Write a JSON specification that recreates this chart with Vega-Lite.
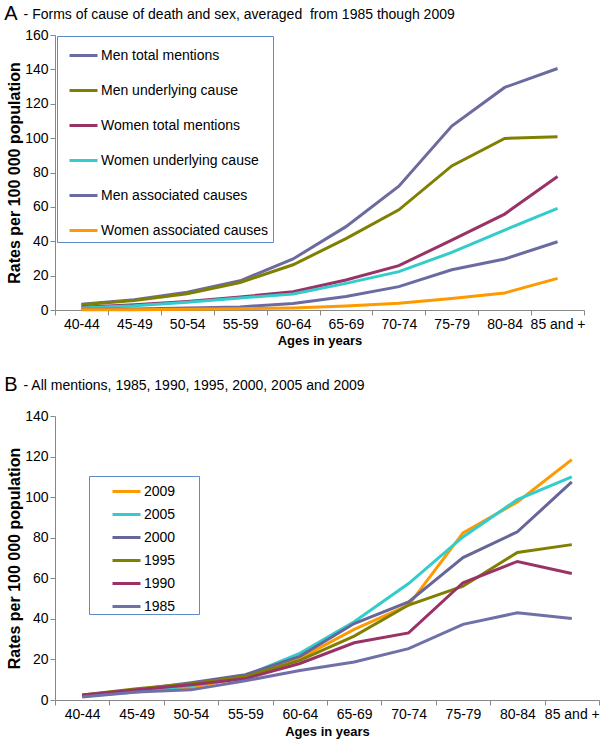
{
  "$schema": "https://vega.github.io/schema/vega-lite/v6.json",
  "padding": {"left": 4, "top": 4, "right": 4, "bottom": 2},
  "config": {
    "font": "Liberation Sans",
    "view": {"stroke": null},
    "axis": {
      "domainColor": "#888888", "tickColor": "#888888", "tickSize": 5,
      "labelColor": "#000000", "labelFontSize": 14, "labelPadding": 2,
      "titleColor": "#000000", "titleFontWeight": "bold", "grid": false
    },
    "title": {"anchor": "start", "frame": "bounds", "color": "#000000", "subtitleColor": "#000000", "dx": -2}
  },
  "datasets": {
    "a": [
      {"age": "40-44", "series": "Men total mentions", "rate": 3.3},
      {"age": "45-49", "series": "Men total mentions", "rate": 6},
      {"age": "50-54", "series": "Men total mentions", "rate": 10.3},
      {"age": "55-59", "series": "Men total mentions", "rate": 17},
      {"age": "60-64", "series": "Men total mentions", "rate": 29.7},
      {"age": "65-69", "series": "Men total mentions", "rate": 48.5},
      {"age": "70-74", "series": "Men total mentions", "rate": 72},
      {"age": "75-79", "series": "Men total mentions", "rate": 107},
      {"age": "80-84", "series": "Men total mentions", "rate": 129.5},
      {"age": "85 and +", "series": "Men total mentions", "rate": 140.5},
      {"age": "40-44", "series": "Men underlying cause", "rate": 3},
      {"age": "45-49", "series": "Men underlying cause", "rate": 5.5},
      {"age": "50-54", "series": "Men underlying cause", "rate": 9.5},
      {"age": "55-59", "series": "Men underlying cause", "rate": 16},
      {"age": "60-64", "series": "Men underlying cause", "rate": 26.3},
      {"age": "65-69", "series": "Men underlying cause", "rate": 41.5},
      {"age": "70-74", "series": "Men underlying cause", "rate": 58.3},
      {"age": "75-79", "series": "Men underlying cause", "rate": 83.8},
      {"age": "80-84", "series": "Men underlying cause", "rate": 99.8},
      {"age": "85 and +", "series": "Men underlying cause", "rate": 100.8},
      {"age": "40-44", "series": "Women total mentions", "rate": 1.6},
      {"age": "45-49", "series": "Women total mentions", "rate": 3},
      {"age": "50-54", "series": "Women total mentions", "rate": 5},
      {"age": "55-59", "series": "Women total mentions", "rate": 7.6},
      {"age": "60-64", "series": "Women total mentions", "rate": 10.6},
      {"age": "65-69", "series": "Women total mentions", "rate": 17.5},
      {"age": "70-74", "series": "Women total mentions", "rate": 25.8},
      {"age": "75-79", "series": "Women total mentions", "rate": 40.7},
      {"age": "80-84", "series": "Women total mentions", "rate": 55.8},
      {"age": "85 and +", "series": "Women total mentions", "rate": 77.7},
      {"age": "40-44", "series": "Women underlying cause", "rate": 1.2},
      {"age": "45-49", "series": "Women underlying cause", "rate": 2.5},
      {"age": "50-54", "series": "Women underlying cause", "rate": 4.5},
      {"age": "55-59", "series": "Women underlying cause", "rate": 7},
      {"age": "60-64", "series": "Women underlying cause", "rate": 9.3},
      {"age": "65-69", "series": "Women underlying cause", "rate": 15.5},
      {"age": "70-74", "series": "Women underlying cause", "rate": 22.3},
      {"age": "75-79", "series": "Women underlying cause", "rate": 33.5},
      {"age": "80-84", "series": "Women underlying cause", "rate": 46.5},
      {"age": "85 and +", "series": "Women underlying cause", "rate": 59.1},
      {"age": "40-44", "series": "Men associated causes", "rate": 0.4},
      {"age": "45-49", "series": "Men associated causes", "rate": 0.6},
      {"age": "50-54", "series": "Men associated causes", "rate": 1.2},
      {"age": "55-59", "series": "Men associated causes", "rate": 1.8},
      {"age": "60-64", "series": "Men associated causes", "rate": 3.8},
      {"age": "65-69", "series": "Men associated causes", "rate": 7.8},
      {"age": "70-74", "series": "Men associated causes", "rate": 13.6},
      {"age": "75-79", "series": "Men associated causes", "rate": 23.4},
      {"age": "80-84", "series": "Men associated causes", "rate": 29.7},
      {"age": "85 and +", "series": "Men associated causes", "rate": 39.7},
      {"age": "40-44", "series": "Women associated causes", "rate": 0.1},
      {"age": "45-49", "series": "Women associated causes", "rate": 0.2},
      {"age": "50-54", "series": "Women associated causes", "rate": 0.4},
      {"age": "55-59", "series": "Women associated causes", "rate": 0.7},
      {"age": "60-64", "series": "Women associated causes", "rate": 1.2},
      {"age": "65-69", "series": "Women associated causes", "rate": 2.3},
      {"age": "70-74", "series": "Women associated causes", "rate": 3.9},
      {"age": "75-79", "series": "Women associated causes", "rate": 6.7},
      {"age": "80-84", "series": "Women associated causes", "rate": 9.9},
      {"age": "85 and +", "series": "Women associated causes", "rate": 18.4}
    ],
    "b": [
      {"age": "40-44", "year": "2009", "rate": 2},
      {"age": "45-49", "year": "2009", "rate": 4.5},
      {"age": "50-54", "year": "2009", "rate": 6},
      {"age": "55-59", "year": "2009", "rate": 11.5},
      {"age": "60-64", "year": "2009", "rate": 20.5},
      {"age": "65-69", "year": "2009", "rate": 34.8},
      {"age": "70-74", "year": "2009", "rate": 46.8},
      {"age": "75-79", "year": "2009", "rate": 82.4},
      {"age": "80-84", "year": "2009", "rate": 97.6},
      {"age": "85 and +", "year": "2009", "rate": 118.5},
      {"age": "40-44", "year": "2005", "rate": 2},
      {"age": "45-49", "year": "2005", "rate": 4},
      {"age": "50-54", "year": "2005", "rate": 7},
      {"age": "55-59", "year": "2005", "rate": 12},
      {"age": "60-64", "year": "2005", "rate": 23},
      {"age": "65-69", "year": "2005", "rate": 38.6},
      {"age": "70-74", "year": "2005", "rate": 57.4},
      {"age": "75-79", "year": "2005", "rate": 80.4},
      {"age": "80-84", "year": "2005", "rate": 98.8},
      {"age": "85 and +", "year": "2005", "rate": 110},
      {"age": "40-44", "year": "2000", "rate": 1.8},
      {"age": "45-49", "year": "2000", "rate": 5},
      {"age": "50-54", "year": "2000", "rate": 8.5},
      {"age": "55-59", "year": "2000", "rate": 12.5},
      {"age": "60-64", "year": "2000", "rate": 21.5},
      {"age": "65-69", "year": "2000", "rate": 37.7},
      {"age": "70-74", "year": "2000", "rate": 48.4},
      {"age": "75-79", "year": "2000", "rate": 70.2},
      {"age": "80-84", "year": "2000", "rate": 82.9},
      {"age": "85 and +", "year": "2000", "rate": 107.5},
      {"age": "40-44", "year": "1995", "rate": 2.5},
      {"age": "45-49", "year": "1995", "rate": 5.5},
      {"age": "50-54", "year": "1995", "rate": 8},
      {"age": "55-59", "year": "1995", "rate": 11.5},
      {"age": "60-64", "year": "1995", "rate": 19.5},
      {"age": "65-69", "year": "1995", "rate": 31.5},
      {"age": "70-74", "year": "1995", "rate": 46.8},
      {"age": "75-79", "year": "1995", "rate": 56.1},
      {"age": "80-84", "year": "1995", "rate": 72.7},
      {"age": "85 and +", "year": "1995", "rate": 76.6},
      {"age": "40-44", "year": "1990", "rate": 2.5},
      {"age": "45-49", "year": "1990", "rate": 5},
      {"age": "50-54", "year": "1990", "rate": 7.5},
      {"age": "55-59", "year": "1990", "rate": 10.5},
      {"age": "60-64", "year": "1990", "rate": 18},
      {"age": "65-69", "year": "1990", "rate": 28.2},
      {"age": "70-74", "year": "1990", "rate": 33.1},
      {"age": "75-79", "year": "1990", "rate": 57.8},
      {"age": "80-84", "year": "1990", "rate": 68.3},
      {"age": "85 and +", "year": "1990", "rate": 62.4},
      {"age": "40-44", "year": "1985", "rate": 1.5},
      {"age": "45-49", "year": "1985", "rate": 4},
      {"age": "50-54", "year": "1985", "rate": 5},
      {"age": "55-59", "year": "1985", "rate": 9.5},
      {"age": "60-64", "year": "1985", "rate": 14.5},
      {"age": "65-69", "year": "1985", "rate": 18.7},
      {"age": "70-74", "year": "1985", "rate": 25.3},
      {"age": "75-79", "year": "1985", "rate": 37.3},
      {"age": "80-84", "year": "1985", "rate": 43},
      {"age": "85 and +", "year": "1985", "rate": 40.2}
    ]
  },
  "vconcat": [
    {
      "width": 529,
      "height": 275,
      "title": {
        "text": "A",
        "subtitle": "\u200b\u00a0\u00a0\u00a0\u00a0\u00a0- Forms of cause of death and sex, averaged\u00a0\u00a0from 1985 though 2009",
        "fontSize": 20, "fontWeight": "normal", "subtitleFontSize": 14,
        "subtitlePadding": -16, "offset": 4
      },
      "data": {"name": "a"},
      "mark": {"type": "line", "strokeWidth": 3},
      "encoding": {
        "x": {
          "field": "age", "type": "ordinal",
          "sort": ["40-44", "45-49", "50-54", "55-59", "60-64", "65-69", "70-74", "75-79", "80-84", "85 and +"],
          "scale": {"type": "band", "paddingInner": 0, "paddingOuter": 0},
          "axis": {"title": "Ages  in years", "labelAngle": 0, "tickBand": "extent", "titleFontSize": 13, "titlePadding": 3}
        },
        "y": {
          "field": "rate", "type": "quantitative",
          "scale": {"domain": [0, 160], "nice": false},
          "axis": {"values": [0, 20, 40, 60, 80, 100, 120, 140, 160], "title": "Rates per 100 000 population", "titleFontSize": 16, "titlePadding": 2.5}
        },
        "color": {
          "field": "series", "type": "nominal",
          "scale": {
            "domain": ["Men total mentions", "Men underlying cause", "Women total mentions", "Women underlying cause", "Men associated causes", "Women associated causes"],
            "range": ["#6B6B9F", "#808000", "#993366", "#33CCCC", "#6B6BA3", "#FF9900"]
          },
          "legend": {
            "title": null, "orient": "none", "legendX": 2, "legendY": 1,
            "padding": 4, "symbolOffset": 7, "symbolType": "stroke", "symbolSize": 784,
            "symbolStrokeWidth": 3, "labelFontSize": 14, "labelOffset": 2, "rowPadding": 12,
            "labelColor": "#000000", "labelLimit": 300,
            "strokeColor": "#5B8BC9", "fillColor": "#FFFFFF"
          }
        }
      }
    },
    {
      "width": 544,
      "height": 284,
      "title": {
        "text": "B",
        "subtitle": "\u200b\u00a0\u00a0\u00a0\u00a0\u00a0- All mentions, 1985, 1990, 1995, 2000, 2005 and 2009",
        "fontSize": 20, "fontWeight": "normal", "subtitleFontSize": 14,
        "subtitlePadding": -16, "offset": 14
      },
      "data": {"name": "b"},
      "mark": {"type": "line", "strokeWidth": 3},
      "encoding": {
        "x": {
          "field": "age", "type": "ordinal",
          "sort": ["40-44", "45-49", "50-54", "55-59", "60-64", "65-69", "70-74", "75-79", "80-84", "85 and +"],
          "scale": {"type": "band", "paddingInner": 0, "paddingOuter": 0},
          "axis": {"title": "Ages in years", "labelAngle": 0, "tickBand": "extent", "titleFontSize": 13, "titlePadding": 4}
        },
        "y": {
          "field": "rate", "type": "quantitative",
          "scale": {"domain": [0, 140], "nice": false},
          "axis": {"values": [0, 20, 40, 60, 80, 100, 120, 140], "title": "Rates per 100 000 population", "titleFontSize": 16, "titlePadding": 2.5}
        },
        "color": {
          "field": "year", "type": "nominal",
          "scale": {
            "domain": ["2009", "2005", "2000", "1995", "1990", "1985"],
            "range": ["#FF9900", "#33CCCC", "#666699", "#808000", "#993366", "#7070A8"]
          },
          "legend": {
            "title": null, "orient": "none", "legendX": 34, "legendY": 60,
            "padding": 0, "symbolOffset": 22, "symbolType": "stroke", "symbolSize": 784,
            "symbolStrokeWidth": 3, "labelFontSize": 14, "labelOffset": 2, "rowPadding": -2.8,
            "labelExpr": "datum.label + '\u00a0\u00a0\u00a0\u00a0\u00a0\u00a0\u200b'",
            "labelColor": "#000000", "labelLimit": 300,
            "strokeColor": "#5B8BC9", "fillColor": "#FFFFFF"
          }
        }
      }
    }
  ],
  "resolve": {"scale": {"color": "independent", "x": "independent", "y": "independent"}, "legend": {"color": "independent"}},
  "spacing": 28
}
